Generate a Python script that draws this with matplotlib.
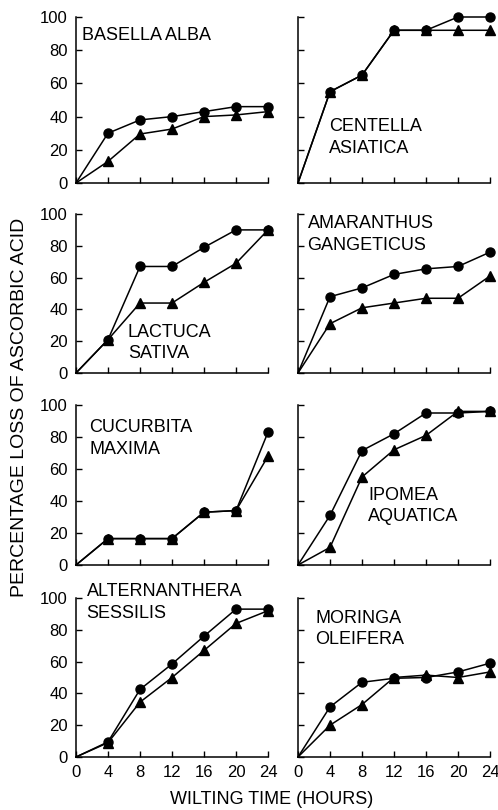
import matplotlib
matplotlib.use("Agg")
import matplotlib.pyplot as plt

plt.rcParams['font.family'] = ['Liberation Sans', 'DejaVu Sans']

hours = [0, 4, 8, 12, 16, 20, 24]

species = ["BASELLA ALBA", "CENTELLA\nASIATICA",
           "LACTUCA\nSATIVA", "AMARANTHUS\nGANGETICUS",
           "CUCURBITA\nMAXIMA", "IPOMEA\nAQUATICA",
           "ALTERNANTHERA\nSESSILIS", "MORINGA\nOLEIFERA"]

basella_circle = [0, 30, 38, 40, 43, 46, 46]
basella_tri = [0, 13, 29.5, 32.5, 40, 41, 43]
centella_circle = [0, 55, 65, 92, 92, 100, 100]
centella_tri = [0, 55, 65, 92, 92, 92, 92]
lactuca_circle = [0, 21, 67, 67, 79, 90, 90]
lactuca_tri = [0, 21, 44, 44, 57, 69, 90]
amaranthus_circle = [0, 48, 53.5, 62, 65.5, 67, 76]
amaranthus_tri = [0, 31, 41, 44, 47, 47, 61]
cucurbita_circle = [0, 16.5, 16.5, 16.5, 33, 34, 83]
cucurbita_tri = [0, 16.5, 16.5, 16.5, 33, 34, 68]
ipomea_circle = [0, 31, 71.5, 82, 95, 95, 96]
ipomea_tri = [0, 11, 55, 72, 81, 96, 96]
alternanthera_circle = [0, 9.5, 42.5, 58.5, 76, 93, 93]
alternanthera_tri = [0, 9, 34.5, 50, 67, 84, 92]
moringa_circle = [0, 31.5, 47, 49.5, 50, 53.5, 59]
moringa_tri = [0, 20, 33, 50, 51.5, 50, 53.5]

circles = [basella_circle, centella_circle, lactuca_circle, amaranthus_circle,
           cucurbita_circle, ipomea_circle, alternanthera_circle, moringa_circle]
triangles = [basella_tri, centella_tri, lactuca_tri, amaranthus_tri,
             cucurbita_tri, ipomea_tri, alternanthera_tri, moringa_tri]

x_ticks = [0, 4, 8, 12, 16, 20, 24]
y_ticks = [0, 20, 40, 60, 80, 100]

label_pos = [(0.03, 0.89), (0.16, 0.275),
             (0.27, 0.19), (0.05, 0.87),
             (0.07, 0.79), (0.365, 0.37),
             (0.055, 0.97), (0.09, 0.805)]

W, H = 498, 810
col_x = [76, 298]
col_w = 192
rows = [(17, 183), (214, 373), (405, 565), (598, 757)]

fig = plt.figure(figsize=(W / 100, H / 100), dpi=100)

for i in range(8):
    r, c = divmod(i, 2)
    top, bot = rows[r]
    ax = fig.add_axes([col_x[c] / W, 1 - bot / H, col_w / W, (bot - top) / H])
    ax.plot(hours, triangles[i], color='black', lw=1.1, marker='^', ms=7,
            markevery=slice(1, None), clip_on=False, zorder=3)
    ax.plot(hours, circles[i], color='black', lw=1.1, marker='o', ms=6.5,
            markevery=slice(1, None), clip_on=False, zorder=4)
    ax.set_xlim(0, 24)
    ax.set_ylim(0, 100)
    ax.set_xticks(x_ticks)
    ax.set_yticks(y_ticks)
    for s in ['top', 'right']:
        ax.spines[s].set_visible(False)
    for s in ['left', 'bottom']:
        ax.spines[s].set_linewidth(1.1)
    ax.tick_params(direction='in', length=4, width=1, labelsize=12, pad=6)
    if c == 1:
        ax.set_yticklabels([])
    if r < 3:
        ax.set_xticklabels([])
    tx, ty = label_pos[i]
    ax.text(tx, ty, species[i], transform=ax.transAxes, fontsize=13,
            ha='left', va='center', linespacing=1.35)

fig.text(20 / W, 1 - 407 / H, "PERCENTAGE LOSS OF ASCORBIC ACID", rotation=90,
         ha='center', va='center', fontsize=14)
fig.text(272 / W, 1 - 799 / H, "WILTING TIME (HOURS)", ha='center', va='center',
         fontsize=13)

fig.savefig("out.png", dpi=100)
